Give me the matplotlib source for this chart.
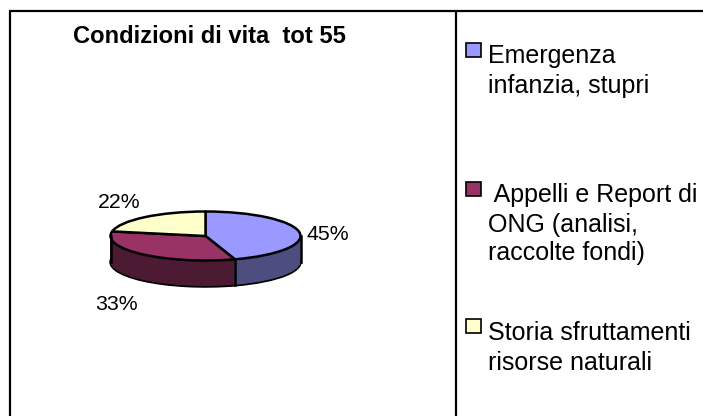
import numpy as np
import matplotlib.pyplot as plt
from matplotlib.patches import Rectangle

plt.rcParams['font.family'] = ['Liberation Sans', 'DejaVu Sans']

# Data
values = [45, 33, 22]
pct_labels = ['45%', '33%', '22%']
top_colors = ['#9999FF', '#993366', '#FFFFCC']
side_colors = ['#4D4D80', '#4D1A33', '#808066']
title = 'Condizioni di vita  tot 55'
legend_lines = [
    ['Emergenza', 'infanzia, stupri'],
    [' Appelli e Report di', 'ONG (analisi,', 'raccolte fondi)'],
    ['Storia sfruttamenti', 'risorse naturali'],
]

W, H = 703, 416
fig = plt.figure(figsize=(W / 100, H / 100), dpi=100)

# Background axes in pixel coordinates, for frame, title and legend
bg = fig.add_axes([0, 0, 1, 1])
bg.set_xlim(0, W)
bg.set_ylim(H, 0)
bg.axis('off')

bg.plot([10, 10], [H, 11], color='black', lw=1.6, solid_capstyle='butt')
bg.plot([9, W], [11, 11], color='black', lw=1.6, solid_capstyle='butt')
bg.plot([456, 456], [11, H], color='black', lw=1.6, solid_capstyle='butt')

bg.text(209.5, 43, title, fontsize=17.1, fontweight='bold', ha='center', va='baseline')

# Legend
swatch_y = [43, 182, 319]
line_y = [[63, 93], [202, 232, 260], [340, 370]]
for i in range(3):
    bg.add_patch(Rectangle((466, swatch_y[i]), 15, 14, facecolor=top_colors[i],
                           edgecolor='black', lw=1.2))
    for txt, y in zip(legend_lines[i], line_y[i]):
        bg.text(488, y, txt, fontsize=18, ha='left', va='baseline', clip_on=False)

# Pie labels
label_x = [327.5, 116, 119]
label_y = [240, 310, 208]
for txt, x, y in zip(pct_labels, label_x, label_y):
    bg.text(x, y, txt, fontsize=15.3, ha='center', va='baseline')

# Pie axes: a squashed circle gives the tilted look
cx, cy, rx, ry = 205.5, 236, 95, 24.5
depth = 26 / ry
ax = fig.add_axes([(cx - rx) / W, 1 - (cy + ry) / H, 2 * rx / W, 2 * ry / H])
ax.axis('off')

edge = {'edgecolor': 'black', 'linewidth': 1.8, 'joinstyle': 'round'}

# Side wall: bottom pie with outline, then stacked pies without one
ax.pie(values, colors=side_colors, startangle=90, counterclock=False, center=(0, -depth),
       wedgeprops=edge, frame=False)
for d in np.linspace(depth - 0.02, 0, 30):
    ax.pie(values, colors=side_colors, startangle=90, counterclock=False, center=(0, -d),
           frame=False)
ax.pie(values, colors=top_colors, startangle=90, counterclock=False,
       wedgeprops=edge, frame=False)

ax.set_aspect('auto')
ax.set_xlim(-1, 1)
ax.set_ylim(-1, 1)

# Vertical edges of the wall
ax.plot([-1, -1], [0, -depth], color='black', lw=1.8, clip_on=False)
ax.plot([1, 1], [0, -depth], color='black', lw=1.8, clip_on=False)
angle = np.radians(90 - 360 * values[0] / sum(values))
ax.plot([np.cos(angle)] * 2, [np.sin(angle), np.sin(angle) - depth], color='black', lw=1.8,
        clip_on=False)
for p in ax.patches:
    p.set_clip_on(False)

fig.savefig('out.png', dpi=100)
